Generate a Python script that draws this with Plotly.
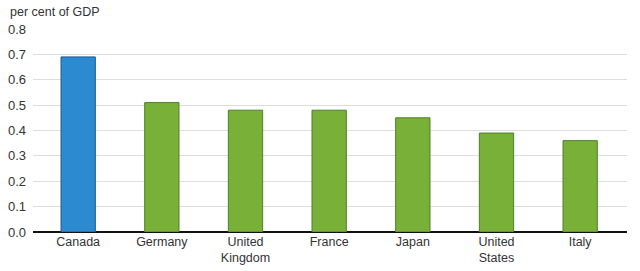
import plotly.graph_objects as go

categories = ["Canada", "Germany", "United<br>Kingdom", "France", "Japan", "United<br>States", "Italy"]
values = [0.69, 0.51, 0.48, 0.48, 0.45, 0.39, 0.36]
y_ticks = [0.0, 0.1, 0.2, 0.3, 0.4, 0.5, 0.6, 0.7, 0.8]
y_tick_labels = ["0.0", "0.1", "0.2", "0.3", "0.4", "0.5", "0.6", "0.7", "0.8"]

fill_colors = ["#2b8ad0"] + ["#78b038"] * 6
line_colors = ["#1c5a94"] + ["#4d7f2a"] * 6

fig = go.Figure()
fig.add_trace(go.Bar(
    x=list(range(len(categories))),
    y=values,
    width=0.41,
    marker=dict(color=fill_colors, line=dict(color=line_colors, width=1)),
    hoverinfo="skip",
))

fig.update_layout(
    width=640, height=271,
    margin=dict(l=33, r=13, t=29, b=38.5, autoexpand=False),
    paper_bgcolor="white", plot_bgcolor="white",
    showlegend=False,
    font=dict(family="Liberation Sans, Arial, sans-serif", size=12.5, color="#333333"),
    xaxis=dict(
        range=[-0.54, 6.56],
        tickmode="array",
        tickvals=list(range(len(categories))),
        ticktext=categories,
        showgrid=False, zeroline=False,
        showline=False, ticks="",
        automargin=False,
        tickfont=dict(size=12.5, color="#333333"),
    ),
    yaxis=dict(
        range=[0, 0.8],
        tickmode="array",
        tickvals=y_ticks,
        ticktext=y_tick_labels,
        showgrid=True, gridcolor="#dddddd", gridwidth=1,
        zeroline=True, zerolinecolor="#111111", zerolinewidth=2,
        showline=False, ticks="",
        automargin=False,
        ticklabelstandoff=6,
        tickfont=dict(size=13, color="#333333"),
    ),
    annotations=[dict(
        text="per cent of GDP", xref="paper", yref="paper",
        x=0, y=1, xanchor="left", yanchor="bottom",
        xshift=-25, yshift=8, showarrow=False,
        font=dict(size=12.5, color="#333333"),
    )],
)

fig.write_html("out.html")
